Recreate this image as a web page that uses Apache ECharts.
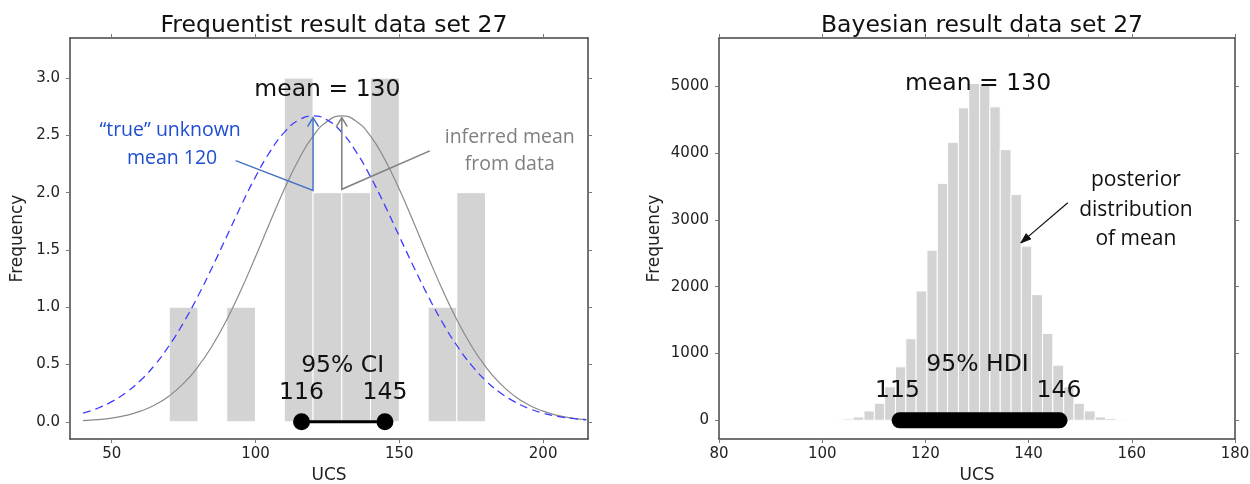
<!DOCTYPE html>
<html><head><meta charset="utf-8">
<script src="https://cdn.jsdelivr.net/npm/echarts@6/dist/echarts.min.js"></script>
<style>html,body{margin:0;padding:0;background:#fff}#c{width:1250px;height:484px}</style>
</head><body><div id="c"></div>
<script>
// ---------- Left chart: frequentist ----------
const freqBinLo = [70, 90, 110, 120, 130, 140, 160, 170];
const freqBinHi = [80, 100, 120, 130, 140, 150, 170, 180];
const freqCounts = [1, 1, 3, 2, 2, 3, 1, 2];
const curveX = [40,45,50,55,60,65,70,75,80,85,90,95,100,105,110,115,120,125,130,135,140,145,150,155,160,165,170,175,180,185,190,195,200,205,210,215];
const inferredCurve = [0.010,0.019,0.033,0.056,0.093,0.147,0.226,0.335,0.481,0.666,0.891,1.153,1.440,1.739,2.029,2.288,2.493,2.624,2.67,2.624,2.493,2.288,2.029,1.739,1.440,1.153,0.891,0.666,0.481,0.335,0.226,0.147,0.093,0.056,0.033,0.019];
const trueCurve = [0.076,0.117,0.176,0.255,0.361,0.497,0.666,0.867,1.098,1.352,1.619,1.887,2.138,2.356,2.526,2.633,2.67,2.633,2.526,2.356,2.138,1.887,1.619,1.352,1.098,0.867,0.666,0.497,0.361,0.255,0.176,0.117,0.076,0.048,0.030,0.018];
const ciBounds = [116, 145];
const freqXTicks = [50, 100, 150, 200];
const freqYTicks = [0, 0.5, 1, 1.5, 2, 2.5, 3];

// ---------- Right chart: Bayesian ----------
const bayesEdges = [95.9,97.9,99.9,102.0,104.0,106.0,108.1,110.1,112.1,114.2,116.2,118.2,120.3,122.3,124.3,126.4,128.4,130.5,132.5,134.5,136.6,138.6,140.6,142.7,144.7,146.8,148.8,150.8,152.9,154.9,156.9,159.0];
const bayesCounts = [3,0,0,5,20,50,140,255,500,800,1220,1935,2545,3545,4160,4675,5040,5025,4690,4050,3380,2605,1880,1300,825,500,255,140,50,25,8];
const hdiBounds = [115, 146];
const bayesXTicks = [80, 100, 120, 140, 160, 180];
const bayesYTicks = [0, 1000, 2000, 3000, 4000, 5000];

const MPL = 'DejaVu Sans';
const ANN = 'Open Sans';

const chart = echarts.init(document.getElementById('c'), null, {renderer: 'canvas'});

function axis(kind, grid, pos, min, max, ticks, fmt, name, gap) {
  const a = {
    type: 'value', gridIndex: grid, position: pos, min: min, max: max,
    axisLine: {show: true, onZero: false, lineStyle: {color: '#444', width: 1.5}},
    axisTick: {show: true, inside: false, length: 4, customValues: ticks, lineStyle: {color: '#777', width: 1}},
    axisLabel: {show: !!fmt, customValues: ticks, formatter: fmt || '{value}', color: '#222',
      fontSize: 15, fontFamily: MPL, margin: kind === 'x' ? 8 : 10},
    splitLine: {show: false}
  };
  if (name) {
    a.name = name; a.nameLocation = 'middle'; a.nameGap = gap;
    a.nameTextStyle = {fontSize: 17, fontFamily: MPL, color: '#222'};
  }
  return a;
}

function histItem(params, api) {
  const a = api.coord([api.value(0), 0]);
  const b = api.coord([api.value(1), api.value(2)]);
  return {type: 'rect', shape: {x: a[0], y: b[1], width: b[0] - a[0], height: a[1] - b[1]},
    style: {fill: '#d3d3d3', stroke: '#ffffff', lineWidth: 1}};
}

function arrowSeries(g, xs, ys, color, width, filled) {
  return {
    type: 'custom', xAxisIndex: g * 2, yAxisIndex: g * 2, silent: true, z: 6, clip: false,
    data: xs.map((x, i) => [x, ys[i]]), encode: {x: 0, y: 1},
    renderItem(params, api) {
      if (params.dataIndex !== 0) return {type: 'group', children: []};
      const pts = xs.map((x, i) => api.coord([x, ys[i]]));
      const tip = pts[pts.length - 1], prev = pts[pts.length - 2];
      let dx = tip[0] - prev[0], dy = tip[1] - prev[1];
      const len = Math.hypot(dx, dy); dx /= len; dy /= len;
      const L = filled ? 10 : 9, W = filled ? 3.5 : 5.5;
      const bx = tip[0] - dx * L, by = tip[1] - dy * L;
      const p1 = [bx - dy * W, by + dx * W], p2 = [bx + dy * W, by - dx * W];
      const head = filled
        ? {type: 'polygon', shape: {points: [p1, tip, p2]}, style: {fill: color, stroke: color, lineWidth: 1}}
        : {type: 'polyline', shape: {points: [p1, tip, p2]}, style: {stroke: color, lineWidth: width, fill: null}};
      return {type: 'group', children: [
        {type: 'polyline', shape: {points: pts}, style: {stroke: color, lineWidth: width, fill: null}},
        head
      ]};
    }
  };
}

function note(g, x, y, text, size, color, family) {
  return {
    type: 'custom', xAxisIndex: g * 2, yAxisIndex: g * 2, silent: true, z: 10, clip: false,
    data: [[x, y]], encode: {x: 0, y: 1},
    renderItem(params, api) {
      const p = api.coord([api.value(0), api.value(1)]);
      return {type: 'text', x: p[0], y: p[1], style: {text: text, fill: color, fontSize: size,
        fontFamily: family, align: 'center', verticalAlign: 'middle', textAlign: 'center', textVerticalAlign: 'middle'}};
    }
  };
}

const option = {
  animation: false,
  backgroundColor: '#ffffff',
  title: [
    {text: 'Frequentist result data set 27', left: 329, top: 9, textAlign: 'center',
      textStyle: {fontFamily: MPL, fontSize: 23.5, fontWeight: 'normal', color: '#111'}},
    {text: 'Bayesian result data set 27', left: 977, top: 9, textAlign: 'center',
      textStyle: {fontFamily: MPL, fontSize: 23.5, fontWeight: 'normal', color: '#111'}}
  ],
  grid: [
    {left: 70, width: 518, top: 38, height: 401, outerBoundsMode: 'none', containLabel: false},
    {left: 719, width: 516, top: 38, height: 401, outerBoundsMode: 'none', containLabel: false}
  ],
  xAxis: [
    axis('x', 0, 'bottom', 35.5, 215.6, freqXTicks, v => String(v), 'UCS', 28),
    axis('x', 0, 'top', 35.5, 215.6, freqXTicks, null),
    axis('x', 1, 'bottom', 80, 180, bayesXTicks, v => String(v), 'UCS', 28),
    axis('x', 1, 'top', 80, 180, bayesXTicks, null)
  ],
  yAxis: [
    axis('y', 0, 'left', -0.15, 3.35, freqYTicks, v => Number(v).toFixed(1), 'Frequency', 44),
    axis('y', 0, 'right', -0.15, 3.35, freqYTicks, null),
    axis('y', 1, 'left', -280, 5720, bayesYTicks, v => String(v), 'Frequency', 56),
    axis('y', 1, 'right', -280, 5720, bayesYTicks, null)
  ],
  series: [
    // left
    {type: 'custom', xAxisIndex: 0, yAxisIndex: 0, silent: true, z: 1, renderItem: histItem,
      data: freqBinLo.map((lo, i) => [lo, freqBinHi[i], freqCounts[i]]), encode: {x: [0, 1], y: 2}},
    {type: 'line', xAxisIndex: 0, yAxisIndex: 0, silent: true, z: 3, smooth: true, showSymbol: false, symbol: 'none',
      data: curveX.map((x, i) => [x, inferredCurve[i]]), lineStyle: {color: '#8a8a8a', width: 1.2}},
    {type: 'line', xAxisIndex: 0, yAxisIndex: 0, silent: true, z: 3, smooth: true, showSymbol: false, symbol: 'none',
      data: curveX.map((x, i) => [x, trueCurve[i]]), lineStyle: {color: '#3c3cff', width: 1.3, type: [8, 5]}},
    arrowSeries(0, [93.1, 120, 120], [2.28, 2.02, 2.655], '#4472c4', 1.5, false),
    arrowSeries(0, [160.6, 130, 130], [2.365, 2.03, 2.655], '#7f7f7f', 1.5, false),
    {type: 'line', xAxisIndex: 0, yAxisIndex: 0, silent: true, z: 7, symbol: 'circle', symbolSize: 17,
      data: ciBounds.map(v => [v, 0]), lineStyle: {color: '#000', width: 3}, itemStyle: {color: '#000'}},
    note(0, 125, 2.90, 'mean = 130', 23.5, '#111', MPL),
    note(0, 130.3, 0.49, '95% CI', 23.5, '#111', MPL),
    note(0, 116, 0.256, '116', 23.5, '#111', MPL),
    note(0, 145, 0.256, '145', 23.5, '#111', MPL),
    note(0, 70.3, 2.54, '\u201ctrue\u201d unknown', 19.5, '#1f4fd0', ANN),
    note(0, 71, 2.30, 'mean 120', 19.5, '#1f4fd0', ANN),
    note(0, 188.4, 2.48, 'inferred mean', 19.5, '#808080', ANN),
    note(0, 188.4, 2.25, 'from data', 19.5, '#808080', ANN),
    // right
    {type: 'custom', xAxisIndex: 2, yAxisIndex: 2, silent: true, z: 1, renderItem: histItem,
      data: bayesCounts.map((c, i) => [bayesEdges[i], bayesEdges[i + 1], c]), encode: {x: [0, 1], y: 2}},
    {type: 'line', xAxisIndex: 2, yAxisIndex: 2, silent: true, z: 7, symbol: 'none', showSymbol: false,
      data: hdiBounds.map(v => [v, 0]), lineStyle: {color: '#000', width: 16, cap: 'round'}},
    arrowSeries(1, [147.6, 138.5], [3255, 2655], '#111', 1.2, true),
    note(1, 130.2, 5035, 'mean = 130', 23.5, '#111', MPL),
    note(1, 130.1, 825, '95% HDI', 23.5, '#111', MPL),
    note(1, 114.6, 440, '115', 23.5, '#111', MPL),
    note(1, 145.9, 440, '146', 23.5, '#111', MPL),
    note(1, 160.8, 3590, 'posterior', 21, '#111', ANN),
    note(1, 160.8, 3150, 'distribution', 21, '#111', ANN),
    note(1, 160.8, 2715, 'of mean', 21, '#111', ANN)
  ]
};
chart.setOption(option);
</script>
</body></html>
